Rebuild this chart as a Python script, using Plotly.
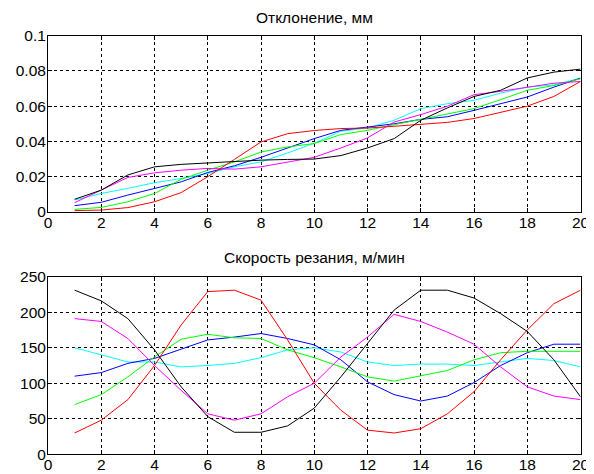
import plotly.graph_objects as go

x = list(range(1, 21))

# Отклонение, мм
dev_black   = [0.0072, 0.0124, 0.021, 0.0256, 0.027, 0.0279, 0.0284, 0.0294, 0.0298, 0.0300, 0.032, 0.0363, 0.0416, 0.052, 0.059, 0.0655, 0.069, 0.076, 0.0793, 0.081]
dev_red     = [0.0008, 0.0011, 0.0025, 0.0058, 0.011, 0.020, 0.0298, 0.0397, 0.0444, 0.0462, 0.0473, 0.0476, 0.0486, 0.0497, 0.0508, 0.053, 0.0567, 0.060, 0.0655, 0.074]
dev_magenta = [0.0053, 0.0124, 0.0196, 0.0222, 0.0237, 0.0247, 0.0243, 0.0256, 0.0284, 0.031, 0.0363, 0.042, 0.051, 0.0552, 0.060, 0.0665, 0.0684, 0.0708, 0.073, 0.074]
dev_green   = [0.0015, 0.0026, 0.0058, 0.0105, 0.0185, 0.0237, 0.0284, 0.034, 0.0369, 0.0388, 0.0439, 0.0463, 0.0495, 0.0525, 0.0552, 0.0586, 0.0637, 0.069, 0.0717, 0.0755]
dev_blue    = [0.0036, 0.0055, 0.0096, 0.0134, 0.0171, 0.0224, 0.0262, 0.031, 0.0363, 0.0416, 0.0463, 0.0482, 0.050, 0.0525, 0.054, 0.0576, 0.0614, 0.0652, 0.0708, 0.0759]
dev_cyan    = [0.0068, 0.0105, 0.0134, 0.0166, 0.019, 0.0218, 0.0256, 0.0284, 0.0335, 0.039, 0.0458, 0.0476, 0.052, 0.0586, 0.0614, 0.0633, 0.0674, 0.0708, 0.072, 0.0759]

# Скорость резания, м/мин
v_black   = [231, 216, 191, 147, 95, 53, 31, 31, 40, 65, 109, 156, 203, 231, 231, 220, 198, 173, 133, 81]
v_red     = [30, 48, 77, 125, 182, 229, 231, 217, 161, 100, 62, 34, 30, 36, 57, 88, 133, 175, 212, 231]
v_magenta = [191, 187, 163, 125, 90, 57, 48, 57, 81, 100, 137, 165, 197, 187, 172, 155, 123, 95, 82, 77]
v_green   = [70, 84, 109, 137, 162, 169, 164, 163, 147, 136, 123, 109, 103, 110, 118, 133, 143, 145, 145, 145]
v_blue    = [110, 115, 128, 135, 148, 161, 165, 170, 163, 154, 133, 102, 84, 75, 82, 101, 125, 143, 155, 155]
v_cyan    = [150, 140, 130, 130, 123, 125, 128, 136, 147, 150, 144, 130, 125, 127, 127, 125, 130, 135, 132, 123]

x_ticks = [0, 2, 4, 6, 8, 10, 12, 14, 16, 18, 20]
dev_ticks = [0, 0.02, 0.04, 0.06, 0.08, 0.1]
dev_ticktext = ["0", "0.02", "0.04", "0.06", "0.08", "0.1"]
v_ticks = [0, 50, 100, 150, 200, 250]

titles = ["Отклонение, мм", "Скорость резания, м/мин"]

colors = ["#00ffff", "#0000ff", "#00ff00", "#ff00ff", "#ff0000", "#000000"]
top_series = [dev_cyan, dev_blue, dev_green, dev_magenta, dev_red, dev_black]
bot_series = [v_cyan, v_blue, v_green, v_magenta, v_red, v_black]

fig = go.Figure()
for s, c in zip(top_series, colors):
    fig.add_trace(go.Scatter(x=x, y=s, mode="lines", line=dict(color=c, width=1),
                             xaxis="x", yaxis="y", showlegend=False))
for s, c in zip(bot_series, colors):
    fig.add_trace(go.Scatter(x=x, y=s, mode="lines", line=dict(color=c, width=1),
                             xaxis="x2", yaxis="y2", showlegend=False))

font = dict(family="Liberation Sans, Arial, sans-serif", size=15.5, color="#000000")

def axis_common(standoff):
    return dict(showline=True, linecolor="#000000", linewidth=1, mirror="ticks",
                ticks="inside", ticklen=4, tickcolor="#000000",
                showgrid=True, gridcolor="#000000", gridwidth=1, griddash="3px,3px",
                zeroline=False, tickfont=font, automargin=False,
                ticklabelstandoff=standoff)

# page has an 8px body margin; figure coordinates are page coordinates minus 8
OFF = 8
W, H = 594 - OFF, 474 - OFF

def fx(px):
    return (px - OFF) / W

def fy(py):
    return (H - (py - OFF)) / H

xd = [fx(48), fx(580.5)]
fig.update_layout(
    width=W, height=H,
    margin=dict(l=0, r=0, t=0, b=0),
    paper_bgcolor="white", plot_bgcolor="white",
    xaxis=dict(domain=xd, range=[0, 20], tickvals=x_ticks, anchor="y", **axis_common(-4)),
    yaxis=dict(domain=[fy(212), fy(35.6)], range=[0, 0.1],
               tickvals=dev_ticks, ticktext=dev_ticktext, anchor="x", **axis_common(-2)),
    xaxis2=dict(domain=xd, range=[0, 20], tickvals=x_ticks, anchor="y2", **axis_common(-4)),
    yaxis2=dict(domain=[fy(454.3), fy(276.7)], range=[0, 250],
                tickvals=v_ticks, anchor="x2", **axis_common(-2)),
    annotations=[
        dict(text=titles[0], x=(xd[0] + xd[1]) / 2, y=fy(8), xref="paper", yref="paper",
             showarrow=False, font=font, xanchor="center", yanchor="top", borderpad=0),
        dict(text=titles[1], x=(xd[0] + xd[1]) / 2, y=fy(258), xref="paper", yref="paper",
             showarrow=False, font=font, xanchor="center", yanchor="middle"),
    ],
)

fig.write_html("out.html")
